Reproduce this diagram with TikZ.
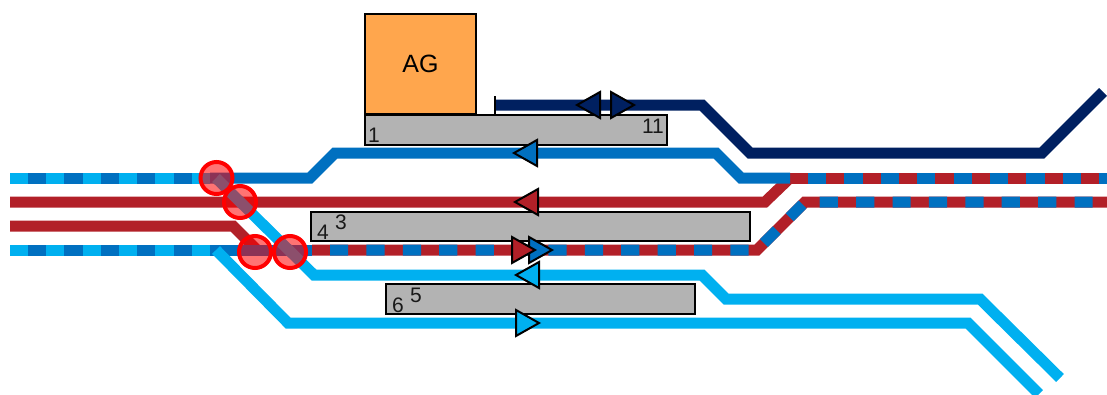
\documentclass[tikz,border=0pt]{standalone}
\usepackage{fontspec}
\setmainfont{Liberation Sans}
\definecolor{lblue}{HTML}{00B0F0}
\definecolor{dblue}{HTML}{0070C0}
\definecolor{trackred}{HTML}{B22028}
\definecolor{navy}{HTML}{002060}
\definecolor{ag}{HTML}{FFA64D}
\definecolor{slab}{HTML}{B3B3B3}
\tikzset{
  track/.style={line width=11pt,line cap=butt,line join=miter},
  dashes/.style={track,dash pattern=on 18.2pt off 18.2pt},
  slabbox/.style={draw=black,line width=2pt,fill=slab,anchor=north west,inner sep=0pt},
  lab/.style={font=\fontsize{21}{25}\selectfont,inner sep=0pt,text=black!90},
  tri/.style={draw=black,line width=2pt,line join=miter},
  blocked/.style={draw=red,line width=4pt,fill=red,fill opacity=.55,circle,minimum size=32pt,inner sep=0pt}
}
\newcommand{\triL}[3]{\draw[tri,fill=#3] (#1,#2) -- ++(23,-13) -- ++(0,26) -- cycle;}
\newcommand{\triR}[3]{\draw[tri,fill=#3] (#1,#2) -- ++(-23,-13) -- ++(0,26) -- cycle;}
\begin{document}
\begin{tikzpicture}[x=1pt,y=-1pt]
\useasboundingbox (0,0) rectangle (1107,394);
% named track points
\coordinate (a0) at (10,178);
\coordinate (a1) at (210,178);
\coordinate (a2) at (310,178);
\coordinate (a3) at (335,153);
\coordinate (a4) at (716,153);
\coordinate (a5) at (741,178);
\coordinate (a6) at (790,178);
\coordinate (a7) at (1107,178);
\coordinate (b0) at (10,202);
\coordinate (b1) at (765,202);
\coordinate (c0) at (10,226);
\coordinate (c1) at (233,226);
\coordinate (c2) at (258,251);
\coordinate (d0) at (10,250);
\coordinate (d1) at (210,250);
\coordinate (d2) at (312,250);
\coordinate (d3) at (757,250);
\coordinate (d4) at (805,202);
\coordinate (d5) at (1107,202);
\coordinate (e0) at (216,178);
\coordinate (e1) at (314,275);
\coordinate (e2) at (702,275);
\coordinate (e3) at (726,299);
\coordinate (e4) at (980,299);
\coordinate (e5) at (1060,378);
\coordinate (f0) at (216,250);
\coordinate (f1) at (288,323);
\coordinate (f2) at (968,323);
\coordinate (f3) at (1039,394);
\coordinate (n0) at (496,105);
\coordinate (n1) at (702,105);
\coordinate (n2) at (750,153);
\coordinate (n3) at (1042,153);
\coordinate (n4) at (1103,92);
% top blue track
\draw[track,lblue] (a0) -- (a1);
\draw[dashes,dblue,dash phase=-18] (a0) -- (a1);
\draw[track,trackred] (a6) -- (a7);
\draw[track,trackred] (b0) -- (b1) -- (a6);
\draw[track,dblue] (a1) -- (a2) -- (a3) -- (a4) -- (a5) -- (a6);
\draw[dashes,dblue,dash phase=-18] (a6) -- (a7);
% lower red
\draw[track,trackred] (c0) -- (c1) -- (c2);
% bottom left track
\draw[track,lblue] (d0) -- (d1);
\draw[dashes,dblue,dash phase=-18] (d0) -- (d1);
\draw[track,dblue] (d1) -- (d2);
% red/blue through track
\draw[track,trackred] (d2) -- (d3) -- (d4) -- (d5);
\draw[dashes,dblue,dash phase=-18] (d2) -- (d3) -- (d4) -- (d5);
% light blue tracks
\draw[track,lblue] (e0) -- (e1) -- (e2) -- (e3) -- (e4) -- (e5);
\draw[track,lblue] (f0) -- (f1) -- (f2) -- (f3);
% navy
\draw[track,navy] (n0) -- (n1) -- (n2) -- (n3) -- (n4);
% platforms
\node[slabbox,minimum width=301.7pt,minimum height=30.5pt] (p1) at (363.8,113.5) {};
\node[slabbox,minimum width=438.7pt,minimum height=29.6pt] (p2) at (310,210.7) {};
\node[slabbox,minimum width=308.7pt,minimum height=29.7pt] (p3) at (385,283.3) {};
\node[draw=black,line width=2pt,fill=ag,anchor=north west,minimum width=111.2pt,minimum height=100pt,inner sep=0pt,font=\fontsize{25}{30}\selectfont] (ag) at (363.8,13) {AG};
\coordinate (t0) at (495,96);
\coordinate (t1) at (495,115);
\draw[black,line width=1.5pt] (t0) -- (t1);
% labels
\node[lab] (l1) at (374,135) {1};
\node[lab] (l11) at (653,126) {11};
\node[lab] (l4) at (323,232) {4};
\node[lab] (l3) at (341,222) {3};
\node[lab] (l6) at (398,305) {6};
\node[lab] (l5) at (416,295) {5};
% direction triangles
\triL{577}{105}{navy}
\triR{634}{105}{navy}
\triL{514}{153}{dblue}
\triL{515}{202}{trackred}
\triR{552}{250}{dblue}
\triR{535}{250}{trackred}
\triL{516}{275}{lblue}
\triR{539}{323}{lblue}
% blocked points
\node[blocked] (x1) at (216.5,178) {};
\node[blocked] (x2) at (240,202) {};
\node[blocked] (x3) at (255,252) {};
\node[blocked] (x4) at (290,252) {};
\end{tikzpicture}
\end{document}
